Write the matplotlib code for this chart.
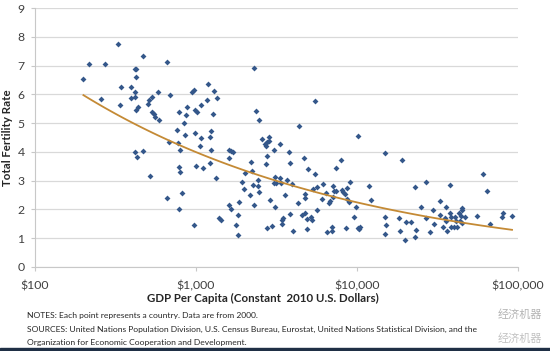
import numpy as np
import matplotlib
matplotlib.use('Agg')
from matplotlib import pyplot as plt
from matplotlib.ticker import FixedLocator, NullLocator

# GDP per capita (constant 2010 US$) and total fertility rate, one point per country
gdp = [200, 217, 272, 329, 469, 416, 426, 426, 344, 394, 420, 583, 257, 396, 420,
	535, 508, 506, 337, 434, 422, 535, 551, 559, 589, 420, 467, 430, 516,
	661, 2300, 690, 940, 975, 1190, 1290, 1360, 1180, 1070,
	883, 784, 863, 986, 1010, 1280, 846, 765, 855, 982,
	1250, 1080, 1220, 1060, 683, 773, 796, 1240, 1600, 1650,
	1710, 1600, 2200, 2010, 2230, 1005, 784, 799, 1230, 1105,
	1325, 1940, 1990, 2170, 2270, 818, 661, 1860, 1610, 1650,
	788, 2290, 1840, 1390, 1430, 1770, 975, 1830,
	5510, 2380, 2460, 4350, 2580, 2840, 2840, 2770, 2680, 2720,
	3340, 3040, 2770, 3780, 2710, 3850, 4670, 4960, 5480, 7960,
	7410, 2420, 2440, 2460, 3100, 3160, 3320, 3360, 3690, 3930,
	3060, 3570, 2880, 3100, 4800, 4780, 5350, 5650, 6150, 6420,
	7070, 7170, 7410, 7070, 6120, 6770, 6700, 8070, 8220, 4320,
	5670, 3840, 4800, 4890, 4540, 5230, 5270, 3480, 3440, 3410,
	2990, 2750, 3990, 4940, 7030, 7000, 6490,
	10190, 14990, 19100, 9060, 8670, 8510, 8750, 8910, 9950, 11910,
	12330, 9680, 8630, 10190, 10540, 10330, 14990, 15140, 14930, 18240,
	18580, 20370, 21580, 19950, 23010, 27100, 25060, 23500, 23010, 28710,
	29790, 27100, 30200,
	32810, 32810, 38190, 36060, 35220, 35720, 34360, 36390, 38190, 38730,
	38370, 40000, 41780, 41020, 41590, 43150, 44670, 45080, 44880, 45360,
	46880, 43630, 55850, 61210, 64140, 67650, 80350, 81470, 92250]

fertility = [6.53, 7.04, 7.04, 7.75, 7.34, 6.87, 6.87, 6.59, 6.25, 6.25, 6.09, 6.09, 5.82, 5.88, 5.89,
	5.92, 5.80, 5.67, 5.63, 5.55, 5.45, 5.38, 5.32, 5.22, 5.10, 3.98, 4.03, 3.81, 3.15,
	7.11, 6.91, 5.96, 6.09, 6.14, 6.35, 6.11, 5.86, 5.79, 5.63,
	5.55, 5.37, 5.27, 5.45, 5.38, 5.30, 5.00, 4.77, 4.59, 4.66,
	4.73, 4.47, 4.52, 4.20, 4.33, 4.29, 4.06, 4.06, 4.05, 4.02,
	3.98, 3.79, 3.65, 3.25, 3.32, 3.51, 3.46, 3.31, 3.60, 3.44,
	3.08, 2.95, 2.69, 2.48, 2.83, 2.57, 2.40, 2.24, 2.15, 2.01,
	2.02, 2.15, 1.80, 1.70, 1.62, 1.44, 1.44, 1.10,
	5.78, 5.41, 5.09, 4.91, 4.43, 4.50, 4.37, 4.34, 4.26, 4.20,
	4.26, 4.06, 3.86, 4.00, 3.56, 3.62, 3.79, 3.40, 3.21, 3.72,
	3.42, 3.01, 2.82, 2.61, 3.12, 2.92, 3.10, 2.92, 3.03, 2.89,
	2.91, 2.51, 2.33, 2.09, 2.54, 2.38, 2.70, 2.78, 2.87, 2.56,
	2.82, 2.64, 2.64, 2.44, 2.37, 2.30, 2.23, 2.66, 2.60, 2.22,
	1.98, 1.83, 1.87, 1.66, 1.79, 1.74, 1.61, 1.69, 1.61, 1.48,
	1.43, 1.34, 1.25, 1.32, 1.39, 1.25, 1.20,
	4.54, 3.97, 3.72, 2.96, 2.74, 2.53, 2.36, 2.24, 2.07, 2.82,
	2.32, 1.74, 1.36, 1.34, 1.38, 1.30, 1.73, 1.45, 1.14, 1.68,
	1.25, 1.56, 1.54, 0.94, 2.76, 2.96, 2.07, 1.28, 1.04, 1.22,
	1.98, 1.70, 1.48,
	2.28, 1.81, 2.84, 2.09, 1.69, 1.60, 1.39, 1.25, 1.88, 1.74,
	1.37, 1.37, 1.37, 1.72, 1.60, 1.86, 1.76, 2.04, 1.97, 1.52,
	1.72, 1.58, 1.76, 3.24, 2.63, 1.50, 1.72, 1.86, 1.75]

x_ticks = [100, 1000, 10000, 100000]
x_labels = ['$100', '$1,000', '$10,000', '$100,000']
y_ticks = list(range(0, 10))

x_title = 'GDP Per Capita (Constant  2010 U.S. Dollars)'
y_title = 'Total Fertility Rate'
notes = ['NOTES: Each point represents a country. Data are from 2000.',
	'SOURCES: United Nations Population Division, U.S. Census Bureau, Eurostat, United Nations Statistical Division, and the',
	'Organization for Economic Cooperation and Development.']
watermark = '经济机器'

plt.rcParams['font.family'] = ['Lato', 'DejaVu Sans']

fig = plt.figure(figsize=(5.5, 3.51), dpi=100)
ax = fig.add_axes([0.0636, 0.240, 0.8776, 0.737])

gdp = np.array(gdp, dtype=float)
fertility = np.array(fertility)

ax.scatter(gdp, fertility, marker='D', s=9, color='#34578A', linewidths=0, zorder=3)

#power trendline, like the spreadsheet one
b, ln_a = np.polyfit(np.log(gdp), np.log(fertility), 1)
xs = np.logspace(np.log10(gdp.min()), np.log10(gdp.max()), 100)
ax.plot(xs, np.exp(ln_a) * xs**b, color='#C48A35', lw=1.3, zorder=4)

ax.set_xscale('log')
ax.set_xlim(100, 100000)
ax.set_ylim(0, 9)
ax.xaxis.set_major_locator(FixedLocator(x_ticks))
ax.xaxis.set_minor_locator(NullLocator())
ax.set_xticklabels(x_labels)
ax.set_yticks(y_ticks)

ax.grid(axis='y', color='#D9D9D9', lw=0.9)
ax.set_axisbelow(True)
for s in ['top', 'right']:
	ax.spines[s].set_visible(False)
for s in ['left', 'bottom']:
	ax.spines[s].set_color('#C8C8C8')
	ax.spines[s].set_linewidth(0.8)
ax.tick_params(axis='both', colors='#C8C8C8', labelcolor='#404040', labelsize=8.8, length=3)
ax.tick_params(axis='x', pad=7)
ax.tick_params(axis='y', pad=4.5)

fig.text(0.0145, 0.6085, y_title, rotation=90, fontsize=8.3, fontweight='bold', color='#262626',
	ha='center', va='center')
fig.text(0.478, 0.151, x_title, fontsize=8.3, fontweight='bold', color='#262626', ha='center', va='center')

for i, line in enumerate(notes):
	fig.text(0.049, 0.100 - i * 0.038, line, fontsize=6.1, color='#262626', ha='left', va='center')

#watermark over the notes
fig.text(0.905, 0.104, watermark, fontsize=8, color='#A8A8A8', alpha=0.85,
	family=['Noto Sans CJK SC', 'DejaVu Sans'], ha='left', va='center', zorder=6)
fig.text(0.905, 0.036, watermark, fontsize=8, color='#B8B8B8', alpha=0.85,
	family=['Noto Sans CJK SC', 'DejaVu Sans'], ha='left', va='center', zorder=6)

# dark strip along the bottom edge
fig.patches.append(plt.Rectangle((0, 0), 1, 0.009, transform=fig.transFigure, color='#1F2F45', zorder=5))

fig.savefig('out.png', dpi=100)
